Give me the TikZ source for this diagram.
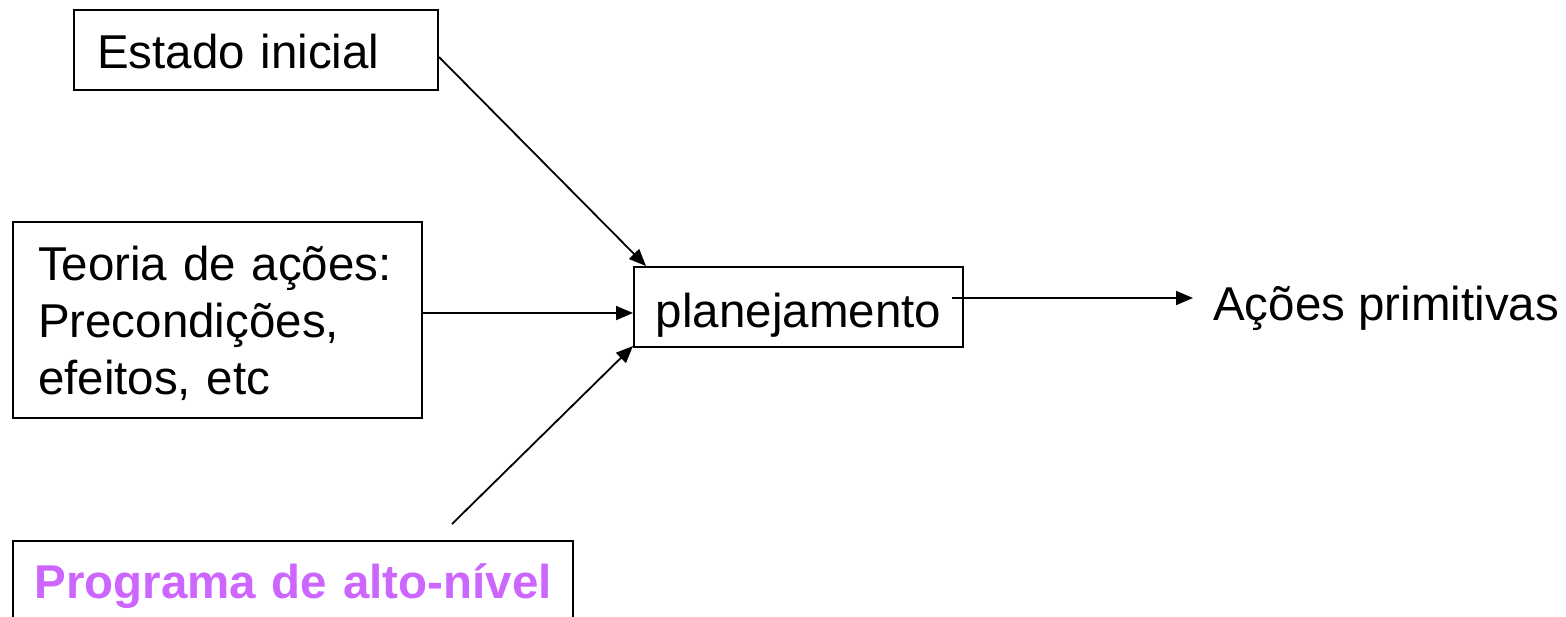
\documentclass[tikz,border=0pt]{standalone}
\usepackage{fontspec}
\setmainfont{Liberation Sans}
\usetikzlibrary{arrows.meta,calc}
\definecolor{progpurple}{HTML}{CC66FF}
\tikzset{
  boxnode/.style={draw=black, line width=2pt, rectangle, inner ysep=0pt, align=left,
    font=\fontsize{47.5}{57}\selectfont},
  conn/.style={line width=1.8pt, -{Triangle[length=17pt,width=14pt]}}
}
\begin{document}
\begin{tikzpicture}[x=1pt,y=-1pt]
\clip (0,0) rectangle (1566,616);
\fill[white] (0,0) rectangle (1566,616);
% Estado inicial: 74-438 x 10-90
\node[boxnode, minimum width=364pt, minimum height=80pt, inner xsep=23pt, text width=318pt,
  text height=36pt, text depth=0pt] (E) at (256,50) {Estado inicial};
% Teoria: 13-422 x 222-418
\node[boxnode, minimum width=409pt, minimum height=196pt, inner xsep=25pt, text width=359pt,
  text height=34pt, text depth=114pt] (T) at (217.5,320) {Teoria de ações:\\Precondições,\\efeitos, etc};
% planejamento: 634-963 x 267-347
\node[boxnode, minimum width=329pt, minimum height=80pt, inner xsep=0pt, text width=329pt, align=center,
  text height=40pt, text depth=0pt] (P) at (798.5,307) {planejamento};
% Programa: 13-573 x 541-622
\node[boxnode, minimum width=560pt, minimum height=81pt, inner xsep=0pt, text width=560pt, align=center,
  text height=33pt, text depth=0pt, text=progpurple, font=\fontsize{47.5}{57}\selectfont\bfseries] (G) at (293,581.5) {Programa de alto-nível};
% Acoes primitivas
\node[anchor=base west, inner sep=0pt, font=\fontsize{47.5}{57}\selectfont] (A) at (1213,320) {Ações primitivas};
% connectors
\draw[conn] ([yshift=-7pt]E.east) -- ([xshift=13pt]P.north west);
\coordinate (t1) at ([yshift=7pt]T.east);
\draw[conn] (t1) -- (t1 -| P.west);
\coordinate (g1) at ([xshift=159pt,yshift=16pt]G.north);
\draw[conn] (g1) -- ([yshift=2pt]P.south west);
\coordinate (o1) at ([xshift=-12pt,yshift=9pt]P.east);
\coordinate (o2) at ($(o1 -| A.west)+(-20,0)$);
\draw[conn] (o1) -- (o2);
\end{tikzpicture}
\end{document}
